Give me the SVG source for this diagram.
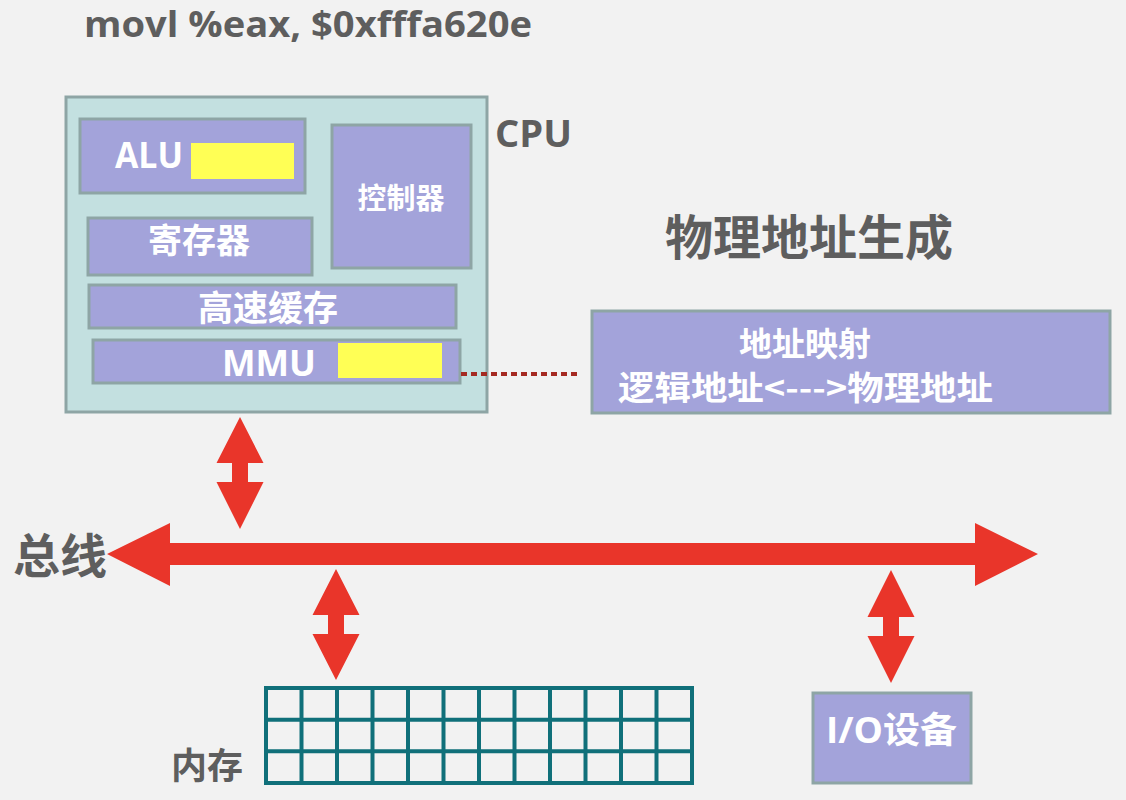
<svg xmlns="http://www.w3.org/2000/svg" width="1126" height="800" viewBox="0 0 1126 800">
<style>
.lat{font-family:"Open Sans","Liberation Sans","Noto Sans CJK SC",sans-serif;font-weight:bold}
.cjk{font-family:"Noto Sans CJK SC","Noto Sans",sans-serif;font-weight:bold}
.gray{fill:#5e5e5e}
.white{fill:#ffffff}
.box{fill:#a3a3da;stroke:#8ea5a5;stroke-width:3}
.yel{fill:#ffff55}
.red{fill:#e9352a}
.grid{fill:none;stroke:#10707a;stroke-width:4}
</style>
<rect x="0" y="0" width="1126" height="800" fill="#f2f2f2"/>
<text class="lat gray" x="84" y="37" font-size="35" textLength="448" lengthAdjust="spacingAndGlyphs">movl %eax, $0xfffa620e</text>
<text class="lat gray" x="495" y="147" font-size="37" textLength="77" lengthAdjust="spacingAndGlyphs">CPU</text>
<text class="cjk gray" x="809" y="255" font-size="48" text-anchor="middle">物理地址生成</text>
<text class="cjk gray" x="60" y="573" font-size="47" text-anchor="middle">总线</text>
<text class="cjk gray" x="207" y="779" font-size="36" text-anchor="middle">内存</text>

<g id="cpu">
<rect x="66" y="97" width="421" height="315" fill="#c3e0e0" stroke="#8ea5a5" stroke-width="3"/>
</g>
<g id="alu">
<rect class="box" x="80" y="119" width="225" height="74"/>
<rect class="yel" x="191" y="143" width="103" height="36"/>
<text class="lat white" x="115" y="168" font-size="36" textLength="68" lengthAdjust="spacingAndGlyphs">ALU</text>
</g>
<g id="controller">
<rect class="box" x="332" y="125" width="139" height="143"/>
<text class="cjk white" x="401" y="209" font-size="29" text-anchor="middle">控制器</text>
</g>
<g id="register">
<rect class="box" x="88" y="218" width="224" height="57"/>
<text class="cjk white" x="199" y="253" font-size="34" text-anchor="middle">寄存器</text>
</g>
<g id="cache">
<rect class="box" x="89" y="285" width="367" height="43"/>
<text class="cjk white" x="268" y="321" font-size="35" text-anchor="middle">高速缓存</text>
</g>
<g id="mmu">
<rect class="box" x="93" y="340" width="367" height="43"/>
<rect class="yel" x="338" y="343" width="104" height="35"/>
<text class="lat white" x="222" y="376" font-size="35" textLength="94" lengthAdjust="spacingAndGlyphs">MMU</text>
</g>
<g id="mapping">
<rect class="box" x="592" y="311" width="518" height="102"/>
<text class="cjk white" x="805" y="356" font-size="33" text-anchor="middle">地址映射</text>
<text class="cjk white" x="618" y="400" font-size="33" textLength="375" lengthAdjust="spacingAndGlyphs">逻辑地址&lt;---&gt;物理地址</text>
</g>
<g id="memory">
<rect class="grid" x="266" y="688" width="426" height="95"/>
<path class="grid" d="M301.5 688V783M337 688V783M372.5 688V783M408 688V783M443.5 688V783M479 688V783M514.5 688V783M550 688V783M585.5 688V783M621 688V783M656.5 688V783M266 719.7H692M266 751.3H692"/>
</g>
<g id="io">
<rect class="box" x="813" y="693" width="158" height="90"/>
<text class="lat white" x="826" y="743" font-size="36" textLength="131" lengthAdjust="spacingAndGlyphs">I/O设备</text>
</g>
<g id="connectors">
<line x1="461" y1="374" x2="578" y2="374" stroke="#a52a22" stroke-width="4" stroke-dasharray="6 4"/>
<polygon class="red" points="107,554 170,523 170,543 975,543 975,523 1038,554 975,586 975,565 170,565 170,586"/>
<polygon class="red" points="240,417 263.5,463 248,463 248,482 263.5,482 240,529 216.5,482 232,482 232,463 216.5,463"/>
<polygon class="red" points="336,569 359.5,615 344,615 344,634 359.5,634 336,680 312.5,634 328,634 328,615 312.5,615"/>
<polygon class="red" points="891,570 914.5,617 899,617 899,636 914.5,636 891,683 867.5,636 883,636 883,617 867.5,617"/>
</g>
</svg>
